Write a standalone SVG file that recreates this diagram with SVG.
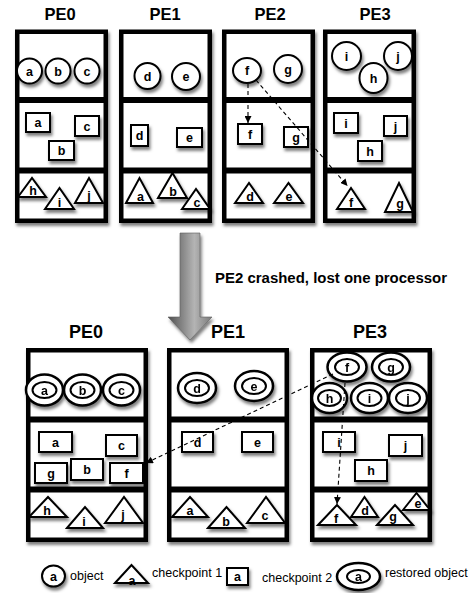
<svg xmlns="http://www.w3.org/2000/svg" width="473" height="593" viewBox="0 0 473 593">
<defs>
<filter id="sh" x="-30%" y="-30%" width="170%" height="180%"><feDropShadow dx="1.5" dy="3" stdDeviation="1.8" flood-color="#000" flood-opacity="0.5"/></filter>
<linearGradient id="ag" x1="0" y1="0" x2="1" y2="0"><stop offset="0" stop-color="#505050"/><stop offset="0.6" stop-color="#b4b4b4"/><stop offset="1" stop-color="#7a7a7a"/></linearGradient>
<marker id="ah" viewBox="0 0 10 10" refX="10" refY="5" markerWidth="7" markerHeight="7" orient="auto" markerUnits="userSpaceOnUse"><path d="M0,0 L10,5 L0,10 z" fill="#000"/></marker>
<style>
.box{fill:#fff;stroke:#000;stroke-width:4.5}
.dv{stroke:#000;stroke-width:6}
.o{fill:#fff;stroke:#000;stroke-width:2;filter:url(#sh)}
.r{fill:#fff;stroke:#000;stroke-width:2.5}
.ri{fill:none;stroke:#000;stroke-width:2}
.l{font-family:"Liberation Sans",Arial,Helvetica,sans-serif;font-weight:bold;font-size:12.5px;text-anchor:middle}
.pe{font-family:"Liberation Sans",Arial,Helvetica,sans-serif;font-weight:bold;font-size:16.5px;text-anchor:middle}
.pe2{font-family:"Liberation Sans",Arial,Helvetica,sans-serif;font-weight:bold;font-size:18px;text-anchor:middle}
.t{font-family:"Liberation Sans",Arial,Helvetica,sans-serif;font-size:12.5px}
.c{fill:none;stroke:#000;stroke-width:1.1;stroke-dasharray:4 3}
</style>
</defs>
<rect width="473" height="593" fill="#fff"/>

<!-- top labels -->
<text class="pe" x="60" y="20">PE0</text>
<text class="pe" x="165" y="20">PE1</text>
<text class="pe" x="270" y="20">PE2</text>
<text class="pe" x="375" y="20">PE3</text>

<!-- top boxes -->
<g id="top-pe0-box" filter="url(#sh)"><rect class="box" x="17.25" y="31.75" width="88.5" height="189"/><line class="dv" x1="17" y1="100" x2="106" y2="100"/><line class="dv" x1="17" y1="170.5" x2="106" y2="170.5"/></g>
<g id="top-pe1-box" filter="url(#sh)"><rect class="box" x="121.25" y="31.75" width="88.5" height="189"/><line class="dv" x1="121" y1="100" x2="210" y2="100"/><line class="dv" x1="121" y1="170.5" x2="210" y2="170.5"/></g>
<g id="top-pe2-box" filter="url(#sh)"><rect class="box" x="224.25" y="31.75" width="88.5" height="189"/><line class="dv" x1="224" y1="100" x2="313" y2="100"/><line class="dv" x1="224" y1="170.5" x2="313" y2="170.5"/></g>
<g id="top-pe3-box" filter="url(#sh)"><rect class="box" x="325.25" y="31.75" width="88.5" height="189"/><line class="dv" x1="325" y1="100" x2="414" y2="100"/><line class="dv" x1="325" y1="170.5" x2="414" y2="170.5"/></g>

<!-- top objects -->
<g id="t0-obj-a"><ellipse class="o" cx="29.5" cy="71" rx="12.5" ry="12.5"/><text class="l" x="29.5" y="75.5">a</text></g>
<g id="t0-obj-b"><ellipse class="o" cx="58" cy="71" rx="12.5" ry="12.5"/><text class="l" x="58" y="75.5">b</text></g>
<g id="t0-obj-c"><ellipse class="o" cx="87" cy="71" rx="12.5" ry="12.5"/><text class="l" x="87" y="75.5">c</text></g>
<g id="t1-obj-d"><ellipse class="o" cx="147.5" cy="76" rx="13" ry="13"/><text class="l" x="147.5" y="80.5">d</text></g>
<g id="t1-obj-e"><ellipse class="o" cx="186" cy="76.5" rx="14" ry="13.5"/><text class="l" x="186" y="81">e</text></g>
<g id="t2-obj-f"><ellipse class="o" cx="247" cy="70.5" rx="14" ry="12.5"/><text class="l" x="247" y="75">f</text></g>
<g id="t2-obj-g"><ellipse class="o" cx="288" cy="69" rx="14" ry="14"/><text class="l" x="288" y="73.5">g</text></g>
<g id="t3-obj-i"><ellipse class="o" cx="346.5" cy="56" rx="14.5" ry="14"/><text class="l" x="346.5" y="60.5">i</text></g>
<g id="t3-obj-j"><ellipse class="o" cx="398" cy="56" rx="14" ry="14"/><text class="l" x="398" y="60.5">j</text></g>
<g id="t3-obj-h"><ellipse class="o" cx="373.5" cy="78" rx="14" ry="15"/><text class="l" x="373.5" y="82.5">h</text></g>

<!-- top checkpoint 2 -->
<g id="t0-cp2-a"><rect class="o" x="26" y="113" width="24" height="19"/><text class="l" x="38" y="127">a</text></g>
<g id="t0-cp2-c"><rect class="o" x="75" y="116" width="24" height="20"/><text class="l" x="87" y="130.5">c</text></g>
<g id="t0-cp2-b"><rect class="o" x="49" y="141" width="25" height="19"/><text class="l" x="61.5" y="155">b</text></g>
<g id="t1-cp2-d"><rect class="o" x="131" y="125" width="17" height="21"/><text class="l" x="139.5" y="140">d</text></g>
<g id="t1-cp2-e"><rect class="o" x="177" y="128" width="25" height="19"/><text class="l" x="189.5" y="142">e</text></g>
<g id="t2-cp2-f"><rect class="o" x="238" y="124" width="24" height="20"/><text class="l" x="250" y="138.5">f</text></g>
<g id="t2-cp2-g"><rect class="o" x="284" y="127" width="24" height="20"/><text class="l" x="296" y="141.5">g</text></g>
<g id="t3-cp2-i"><rect class="o" x="334" y="113" width="24" height="20"/><text class="l" x="346" y="127.5">i</text></g>
<g id="t3-cp2-j"><rect class="o" x="384" y="116" width="23" height="20"/><text class="l" x="395.5" y="130.5">j</text></g>
<g id="t3-cp2-h"><rect class="o" x="358" y="141" width="24" height="20"/><text class="l" x="370" y="155.5">h</text></g>

<!-- top checkpoint 1 -->
<g id="t0-cp1-h"><polygon class="o" points="18,197 32,178 46,197"/><text class="l" x="33" y="195">h</text></g>
<g id="t0-cp1-i"><polygon class="o" points="45,209 59.5,188 74,209"/><text class="l" x="59.5" y="207">i</text></g>
<g id="t0-cp1-j"><polygon class="o" points="75,203 89,178 103,203"/><text class="l" x="89" y="200">j</text></g>
<g id="t1-cp1-a"><polygon class="o" points="126,203 139.5,178 153,203"/><text class="l" x="140.5" y="200.5">a</text></g>
<g id="t1-cp1-b"><polygon class="o" points="158,198 172.5,173 187,198"/><text class="l" x="173" y="195.5">b</text></g>
<g id="t1-cp1-c"><polygon class="o" points="182,209 196,189 210,209"/><text class="l" x="197" y="207">c</text></g>
<g id="t2-cp1-d"><polygon class="o" points="235,203 249,183 263,203"/><text class="l" x="250" y="201">d</text></g>
<g id="t2-cp1-e"><polygon class="o" points="274,203 288.5,183 303,203"/><text class="l" x="289" y="201">e</text></g>
<g id="t3-cp1-f"><polygon class="o" points="337,209 351,188 365,209"/><text class="l" x="351" y="207">f</text></g>
<g id="t3-cp1-g"><polygon class="o" points="385,212 399,183 413,212"/><text class="l" x="400" y="208">g</text></g>

<!-- big arrow -->
<g id="crash-arrow" filter="url(#sh)"><path d="M180,233 L200,233 L200,317 L212,317 L190,340 L168,317 L180,317 Z" fill="url(#ag)" stroke="#5a5a5a" stroke-width="0.6"/></g>
<text id="crash-label" x="215" y="283" font-family="Liberation Sans, Arial, Helvetica, sans-serif" font-weight="bold" font-size="14" textLength="232" lengthAdjust="spacingAndGlyphs">PE2 crashed, lost one processor</text>

<!-- bottom labels -->
<text class="pe2" x="86" y="338">PE0</text>
<text class="pe2" x="228" y="338">PE1</text>
<text class="pe2" x="370" y="338">PE3</text>

<!-- bottom boxes -->
<g id="bot-pe0-box" filter="url(#sh)"><rect class="box" x="28.25" y="350.25" width="117.5" height="189.5"/><line class="dv" x1="28" y1="419.5" x2="146" y2="419.5"/><line class="dv" x1="28" y1="489.5" x2="146" y2="489.5"/></g>
<g id="bot-pe1-box" filter="url(#sh)"><rect class="box" x="169.25" y="350.25" width="117.5" height="189.5"/><line class="dv" x1="169" y1="419.5" x2="287" y2="419.5"/><line class="dv" x1="169" y1="489.5" x2="287" y2="489.5"/></g>
<g id="bot-pe3-box" filter="url(#sh)"><rect class="box" x="312.25" y="350.25" width="117.5" height="189.5"/><line class="dv" x1="312" y1="419.5" x2="430" y2="419.5"/><line class="dv" x1="312" y1="489.5" x2="430" y2="489.5"/></g>

<!-- restored objects -->
<g id="b0-res-a" filter="url(#sh)"><ellipse class="r" cx="44.5" cy="390" rx="18.5" ry="15.5"/><ellipse class="ri" cx="44.5" cy="390" rx="12" ry="8"/><text class="l" x="44.5" y="394.5">a</text></g>
<g id="b0-res-b" filter="url(#sh)"><ellipse class="r" cx="82.5" cy="390" rx="18.5" ry="15.5"/><ellipse class="ri" cx="82.5" cy="390" rx="12" ry="8"/><text class="l" x="82.5" y="394.5">b</text></g>
<g id="b0-res-c" filter="url(#sh)"><ellipse class="r" cx="121.5" cy="390" rx="18.5" ry="15.5"/><ellipse class="ri" cx="121.5" cy="390" rx="12" ry="8"/><text class="l" x="121.5" y="394.5">c</text></g>
<g id="b1-res-d" filter="url(#sh)"><ellipse class="r" cx="197" cy="388" rx="19" ry="15"/><ellipse class="ri" cx="197" cy="388" rx="12" ry="8"/><text class="l" x="197" y="392.5">d</text></g>
<g id="b1-res-e" filter="url(#sh)"><ellipse class="r" cx="254" cy="386" rx="19" ry="15"/><ellipse class="ri" cx="254" cy="386" rx="12" ry="8"/><text class="l" x="254" y="390.5">e</text></g>
<g id="b3-res-f" filter="url(#sh)"><ellipse class="r" cx="347" cy="367" rx="19.5" ry="14.5"/><ellipse class="ri" cx="347" cy="367" rx="12" ry="8"/><text class="l" x="347" y="371.5">f</text></g>
<g id="b3-res-g" filter="url(#sh)"><ellipse class="r" cx="391" cy="367" rx="19" ry="14.5"/><ellipse class="ri" cx="391" cy="367" rx="12" ry="8"/><text class="l" x="391" y="371.5">g</text></g>
<g id="b3-res-h" filter="url(#sh)"><ellipse class="r" cx="329.5" cy="398" rx="17.5" ry="15"/><ellipse class="ri" cx="329.5" cy="398" rx="11.5" ry="8"/><text class="l" x="329.5" y="402.5">h</text></g>
<g id="b3-res-i" filter="url(#sh)"><ellipse class="r" cx="369.5" cy="398" rx="18.5" ry="15"/><ellipse class="ri" cx="369.5" cy="398" rx="12" ry="8"/><text class="l" x="369.5" y="402.5">i</text></g>
<g id="b3-res-j" filter="url(#sh)"><ellipse class="r" cx="408" cy="398" rx="19" ry="15"/><ellipse class="ri" cx="408" cy="398" rx="12" ry="8"/><text class="l" x="408" y="402.5">j</text></g>

<!-- bottom checkpoint 2 -->
<g id="b0-cp2-a"><rect class="o" x="39" y="432" width="33" height="20"/><text class="l" x="55.5" y="446.5">a</text></g>
<g id="b0-cp2-c"><rect class="o" x="106" y="435" width="31" height="21"/><text class="l" x="121.5" y="450">c</text></g>
<g id="b0-cp2-g"><rect class="o" x="35" y="463" width="32" height="20"/><text class="l" x="51" y="477.5">g</text></g>
<g id="b0-cp2-b"><rect class="o" x="71" y="459" width="32" height="21"/><text class="l" x="87" y="473.5">b</text></g>
<g id="b0-cp2-f"><rect class="o" x="110" y="463" width="33" height="20"/><text class="l" x="126.5" y="477.5">f</text></g>
<g id="b1-cp2-d"><rect class="o" x="182" y="432" width="31" height="20"/><text class="l" x="197.5" y="446.5">d</text></g>
<g id="b1-cp2-e"><rect class="o" x="242" y="432" width="31" height="20"/><text class="l" x="257.5" y="446.5">e</text></g>
<g id="b3-cp2-i"><rect class="o" x="323" y="432" width="32" height="20"/><text class="l" x="339" y="446.5">i</text></g>
<g id="b3-cp2-j"><rect class="o" x="389" y="435" width="33" height="21"/><text class="l" x="405.5" y="450">j</text></g>
<g id="b3-cp2-h"><rect class="o" x="355" y="460" width="32" height="21"/><text class="l" x="371" y="475">h</text></g>

<!-- bottom checkpoint 1 -->
<g id="b0-cp1-h"><polygon class="o" points="29,517 48,497 67,517"/><text class="l" x="47" y="515">h</text></g>
<g id="b0-cp1-i"><polygon class="o" points="67,528 85,507 103,528"/><text class="l" x="84" y="526">i</text></g>
<g id="b0-cp1-j"><polygon class="o" points="105,523 124,497 143,523"/><text class="l" x="123" y="519">j</text></g>
<g id="b1-cp1-a"><polygon class="o" points="172,517 190,497 208,517"/><text class="l" x="190" y="515">a</text></g>
<g id="b1-cp1-b"><polygon class="o" points="208,528 226.5,507 245,528"/><text class="l" x="226" y="526">b</text></g>
<g id="b1-cp1-c"><polygon class="o" points="247,523 266,497 285,523"/><text class="l" x="265" y="520">c</text></g>
<g id="b3-cp1-e"><polygon class="o" points="403,510 416.5,493 430,510"/><text class="l" x="418" y="508">e</text></g>
<g id="b3-cp1-d"><polygon class="o" points="351,517 364.5,497 378,517"/><text class="l" x="365" y="515">d</text></g>
<g id="b3-cp1-g"><polygon class="o" points="377,525 395,505 413,525"/><text class="l" x="393" y="521">g</text></g>
<g id="b3-cp1-f"><polygon class="o" points="318,525 337,505 356,525"/><text class="l" x="336" y="523">f</text></g>

<!-- connectors -->
<g id="connectors">
<line class="c" x1="248" y1="84" x2="248" y2="123" marker-end="url(#ah)"/>
<line class="c" x1="256" y1="80" x2="347.5" y2="186" marker-end="url(#ah)"/>
<line class="c" x1="333" y1="374" x2="146" y2="463" marker-end="url(#ah)"/>
<line class="c" x1="345" y1="383" x2="337" y2="504" marker-end="url(#ah)"/>
</g>

<!-- legend -->
<g id="legend-object"><ellipse class="o" cx="53.5" cy="576" rx="11.5" ry="10.5"/><text class="l" x="53.5" y="580.5">a</text><text class="t" x="70" y="580">object</text></g>
<g id="legend-cp1"><polygon class="o" points="115,583 131.5,565 148,583"/><text class="l" x="132" y="585">a</text><text class="t" x="152" y="577">checkpoint 1</text></g>
<g id="legend-cp2"><rect class="o" x="227" y="568" width="21" height="17"/><text class="l" x="237.5" y="581">a</text><text class="t" x="262" y="582">checkpoint 2</text></g>
<g id="legend-restored"><g filter="url(#sh)"><ellipse class="r" cx="358.5" cy="576.5" rx="21.5" ry="13.5"/><ellipse class="ri" cx="358.5" cy="576.5" rx="11.5" ry="6.5"/><text class="l" x="358.5" y="581">a</text></g><text class="t" x="385" y="577">restored object</text></g>
</svg>
